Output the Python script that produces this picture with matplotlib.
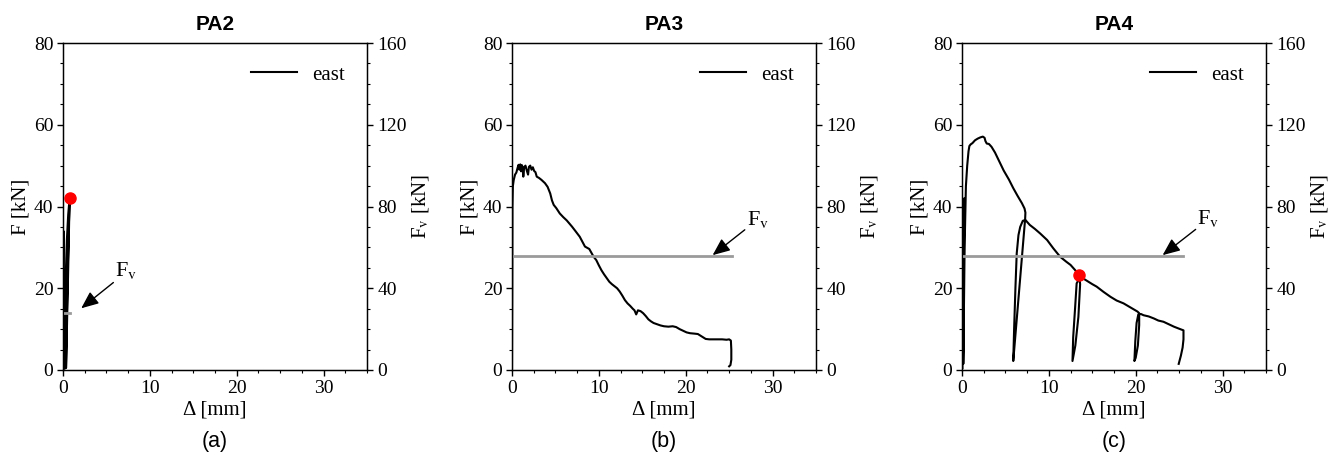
import matplotlib
matplotlib.use("Agg")
import matplotlib.pyplot as plt
from matplotlib.ticker import MultipleLocator

plt.rcParams['font.family'] = ['Liberation Serif', 'DejaVu Serif']
plt.rcParams['mathtext.fontset'] = 'stix'

# ---------------- data ----------------
titles = ["PA2", "PA3", "PA4"]
panel_labels = ["(a)", "(b)", "(c)"]
series_name = "east"

pa2_x = [0.0, 0.03, 0.05, 0.06, 0.04, 0.08, 0.15, 0.25, 0.2, 0.3, 0.45, 0.6, 0.75, 0.72, 0.6, 0.45, 0.35, 0.5, 0.65, 0.77]
pa2_F = [0.0, 15.0, 30.0, 34.0, 12.0, 0.5, 0.3, 0.4, 10.0, 22.0, 32.0, 38.0, 41.8, 38.0, 25.0, 10.0, 0.5, 20.0, 34.0, 41.5]

pa3_x = [0.0, 0.03, 0.05, 0.1, 0.2, 0.35, 0.5, 0.65, 0.75, 0.85, 0.95, 1.05, 1.15, 1.25, 1.3, 1.4, 1.55, 1.7, 1.85, 1.95,
         2.1, 2.25, 2.4, 2.55, 2.7, 2.85, 3.1, 3.4, 3.8, 4.1, 4.4, 4.6, 4.8, 5.1, 5.5, 5.9, 6.3, 6.9, 7.3, 7.8, 8.4,
         8.9, 9.4, 9.7, 10.0, 10.3, 10.6, 10.9, 11.2, 11.5, 11.8, 12.1, 12.4, 12.7, 13.0, 13.3, 13.6, 13.9, 14.1,
         14.3, 14.5, 14.8, 15.1, 15.4, 15.7, 16.0, 16.3, 16.7, 17.1, 17.5, 18.0, 18.5, 18.9, 19.3, 19.7, 20.1, 20.5,
         21.0, 21.4, 21.7, 22.0, 22.3, 22.7, 23.2, 23.7, 24.2, 24.7, 25.0, 25.2, 25.25, 25.25, 25.15, 25.0]
pa3_F = [0.5, 20.0, 40.0, 45.0, 46.5, 47.8, 48.3, 49.5, 50.2, 49.0, 50.3, 48.6, 50.1, 49.3, 47.3, 49.6, 50.0, 48.8, 47.8,
         49.7, 50.0, 49.0, 49.6, 48.7, 48.4, 47.3, 47.0, 46.5, 45.7, 44.8, 43.2, 41.5, 40.4, 39.6, 38.3, 37.4, 36.6,
         35.1, 34.0, 32.6, 30.2, 29.6, 27.7, 26.9, 25.6, 24.4, 23.4, 22.5, 21.6, 21.0, 20.5, 20.0, 19.2, 18.2, 17.1,
         16.3, 15.7, 15.0, 14.6, 13.6, 14.6, 14.4, 13.9, 13.2, 12.4, 11.9, 11.5, 11.2, 10.9, 10.7, 10.6, 10.7, 10.5,
         10.0, 9.6, 9.2, 9.0, 8.9, 8.8, 8.4, 8.0, 7.6, 7.5, 7.5, 7.5, 7.5, 7.4, 7.5, 7.2, 5.0, 2.5, 1.2, 0.9]

pa4_x = [0.05, 0.1, 0.15, 0.12, 0.1, 0.2, 0.25, 0.2, 0.15, 0.3, 0.45, 0.6, 0.75, 0.85, 1.0, 1.2, 1.5, 1.8, 2.1, 2.4,
         2.6, 2.7, 2.85, 3.1, 3.4, 3.8, 4.3, 4.8, 5.4, 5.9, 6.4, 6.9, 7.2, 7.3,
         7.27, 5.9,
         6.0, 6.15, 6.3, 6.5, 6.7, 7.0, 7.3, 7.8, 8.4, 9.0, 9.8, 10.5, 11.3, 12.0, 12.5, 13.0, 13.5,
         13.6, 13.4, 13.05, 12.72,
         12.8, 13.03, 13.2, 13.5, 13.8, 14.1, 14.4, 15.0, 15.5, 16.3, 17.1, 17.8, 18.6, 19.4, 20.2, 20.4,
         20.4, 20.25, 20.0, 19.85,
         19.95, 20.1, 20.3, 20.6, 20.9, 21.5, 22.1, 22.6, 23.2, 23.8, 24.4, 25.0, 25.5,
         25.5, 25.4, 25.2, 24.95]
pa4_F = [0.5, 20.0, 38.0, 10.0, 1.5, 25.0, 42.0, 10.0, 1.5, 30.0, 45.0, 50.0, 53.5, 54.8, 55.2, 55.5, 56.2, 56.6, 56.9, 57.1,
         56.8, 56.0, 55.4, 55.3, 54.6, 53.2, 51.0, 48.8, 46.6, 44.5, 42.6, 40.8, 39.5, 38.5,
         37.0, 2.2,
         10.0, 20.0, 28.5, 33.0, 35.0, 36.5, 36.7, 35.5, 34.5, 33.4, 31.8, 29.8, 27.7, 26.5, 25.7, 24.5, 23.2,
         21.0, 13.0, 6.0, 2.2,
         8.0, 15.5, 21.2, 22.3, 22.5, 22.2, 21.8, 21.0, 20.4, 19.1, 17.9, 17.0, 16.3, 15.3, 14.3, 13.9,
         11.0, 6.0, 3.0, 2.2,
         7.0, 11.5, 13.6, 13.7, 13.4, 13.1, 12.6, 12.1, 11.8, 11.2, 10.6, 10.1, 9.7,
         7.5, 5.5, 3.5, 1.5]

curves_x = [pa2_x, pa3_x, pa4_x]
curves_F = [pa2_F, pa3_F, pa4_F]

# red markers (x, F); None = no marker
marker_x = [0.77, None, 13.5]
marker_F = [42.2, None, 23.2]

# vertical force Fv (right axis, kN) and its extent along Delta
fv_level = [28.0, 55.6, 55.6]
fv_end = [0.85, 25.3, 25.5]

# annotation positions (data coords): text, arrow tail, arrow tip
ann_text = [(6.0, 24.3), (27.1, 36.7), (27.1, 37.0)]
ann_tail = [(5.8, 21.4), (26.8, 34.3), (26.9, 34.4)]
ann_tip = [(2.1, 15.1), (23.1, 28.1), (23.1, 28.1)]

# ---------------- figure ----------------
fig = plt.figure(figsize=(13.36, 4.54), dpi=100)
lefts = [63, 512, 962]
W, H = 1336, 454
axw, axh = 304, 327
bottom_px = 370

for i in range(3):
    ax = fig.add_axes([lefts[i] / W, (H - bottom_px) / H, axw / W, axh / H])
    ax2 = ax.twinx()

    ax.plot(curves_x[i], curves_F[i], color='black', lw=1.5, label=series_name, zorder=3)
    ax2.plot([0, fv_end[i]], [fv_level[i], fv_level[i]], color='#9a9a9a', lw=2.0, zorder=2)
    if marker_x[i] is not None:
        ax.plot([marker_x[i]], [marker_F[i]], 'o', color='red', ms=8, zorder=5)

    ax.set_xlim(0, 35)
    ax.set_ylim(0, 80)
    ax2.set_ylim(0, 160)

    ax.xaxis.set_major_locator(MultipleLocator(10))
    ax.xaxis.set_minor_locator(MultipleLocator(2.5))
    ax.yaxis.set_major_locator(MultipleLocator(20))
    ax.yaxis.set_minor_locator(MultipleLocator(5))
    ax2.yaxis.set_major_locator(MultipleLocator(40))
    ax2.yaxis.set_minor_locator(MultipleLocator(10))

    for a in (ax, ax2):
        a.tick_params(which='major', direction='out', length=4, width=1, labelsize=14)
        a.tick_params(which='minor', direction='out', length=2.5, width=0.8)
    ax.tick_params(axis='both', which='both', top=False, right=False)
    ax.tick_params(axis='y', pad=3)

    ax.set_xlabel('Δ [mm]', fontsize=15, labelpad=2)
    ax.set_ylabel('F [kN]', fontsize=15, labelpad=2.5)
    ax2.set_ylabel(r'F$_\mathrm{v}$ [kN]', fontsize=15, labelpad=2)

    ax.set_title(titles[i], fontsize=15, fontweight='bold', family='Liberation Sans', pad=9)

    ax.legend(loc='upper right', frameon=False, fontsize=15, handlelength=2.2,
              handletextpad=0.75, bbox_to_anchor=(0.99, 0.99))

    ax.annotate('', xy=ann_tip[i], xytext=ann_tail[i],
                arrowprops=dict(arrowstyle='-|>,head_length=0.75,head_width=0.32', color='black',
                                lw=1.0, mutation_scale=14, shrinkA=0, shrinkB=0), zorder=6)
    ax.text(ann_text[i][0], ann_text[i][1], r'F$_\mathrm{v}$', fontsize=16, ha='left', va='center')

    for s in ax.spines.values():
        s.set_linewidth(1.0)

    cx = (lefts[i] + axw / 2) / W
    fig.text(cx, 1 - 441 / H, panel_labels[i], ha='center', va='center', fontsize=15.5,
             family='Liberation Sans')

fig.savefig('out.png', dpi=100)
